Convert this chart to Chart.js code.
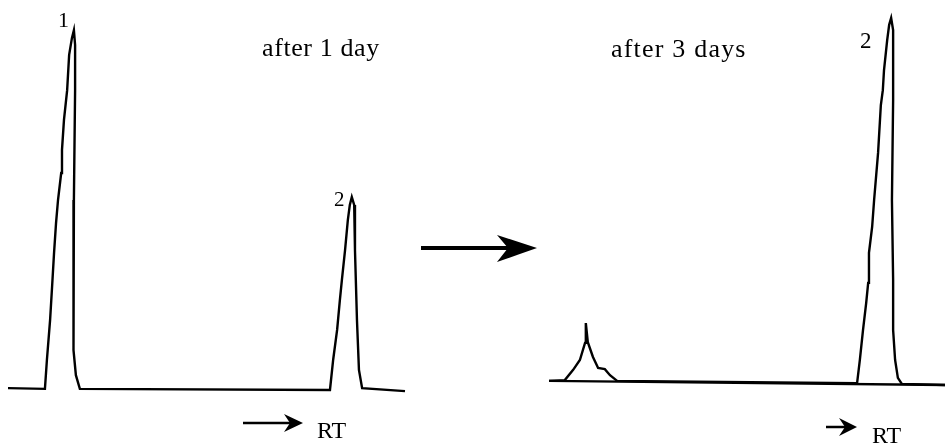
<!DOCTYPE html>
<html>
<head>
<meta charset="utf-8">
<script src="https://cdn.jsdelivr.net/npm/chart.js@4.4.1/dist/chart.umd.min.js"></script>
<style>
  body { margin: 0; background: #fff; }
  #page { position: relative; width: 948px; height: 448px; overflow: hidden; background: #fff; }
  .panel { position: absolute; top: 0; height: 448px; }
  .lbl { position: absolute; font-family: 'Liberation Serif', 'Times New Roman', serif; color: #000; line-height: 1; white-space: nowrap; }
  svg { position: absolute; left: 0; top: 0; }
</style>
</head>
<body>
<div id="page">
  <div class="panel" style="left:0;width:410px"><canvas id="day1Chart" width="410" height="448"></canvas></div>
  <div class="panel" style="left:540px;width:408px"><canvas id="day3Chart" width="408" height="448"></canvas></div>

  <svg width="948" height="448">
    <!-- arrow between the two chromatograms -->
    <line x1="421" y1="248" x2="512" y2="248" stroke="#000" stroke-width="4"/>
    <polygon points="537,248 497,235 508,248 497,262" fill="#000"/>
    <!-- RT direction arrows -->
    <line x1="243" y1="423" x2="292" y2="423" stroke="#000" stroke-width="2.5"/>
    <polygon points="303,423 284,414 290,423 284,432" fill="#000"/>
    <line x1="826" y1="427" x2="846" y2="427" stroke="#000" stroke-width="2.5"/>
    <polygon points="857,427 839,418 845,427 839,436" fill="#000"/>
  </svg>

  <div class="lbl" style="left:262px;top:35px;font-size:26px;letter-spacing:0.6px">after 1 day</div>
  <div class="lbl" style="left:611px;top:36px;font-size:26px;letter-spacing:1.2px">after 3 days</div>
  <div class="lbl" style="left:58px;top:9px;font-size:22px">1</div>
  <div class="lbl" style="left:334px;top:189px;font-size:21px">2</div>
  <div class="lbl" style="left:860px;top:29px;font-size:23px">2</div>
  <div class="lbl" style="left:317px;top:418px;font-size:24px">RT</div>
  <div class="lbl" style="left:872px;top:423px;font-size:24px">RT</div>
</div>

<script>
// Chromatogram after 1 day (retention time in min, detector signal in %)
const day1Rt = [0, 0.93, 0.98, 1.06, 1.11, 1.16, 1.21, 1.26, 1.34, 1.36, 1.41, 1.49, 1.54, 1.61, 1.66,
                1.69, 1.69, 1.66, 1.64, 1.66, 1.71, 1.81,
                8.11, 8.19, 8.29, 8.36, 8.41, 8.49, 8.56, 8.61, 8.66,
                8.72, 8.74, 8.79, 8.84, 8.92, 10];
const day1Signal = [0.5, 0.3, 7.9, 18.4, 27.1, 36.1, 43.9, 50.0, 57.1, 63.2, 71.1, 78.9, 88.2, 92.6, 94.7,
                    90.8, 78.9, 50.0, 18.4, 10.5, 3.9, 0.3,
                    0, 7.9, 15.8, 23.7, 28.9, 36.8, 44.7, 48.7, 50.8,
                    48.7, 36.8, 18.4, 5.3, 0.5, -0.3];

// Chromatogram after 3 days
const day3Rt = [0, 0.40, 0.61, 0.78, 0.91, 0.93, 0.98, 1.11, 1.24, 1.41, 1.54, 1.72,
                7.78, 7.85, 7.93, 8.01, 8.06, 8.08, 8.16, 8.21, 8.31, 8.38, 8.43, 8.46, 8.54, 8.59, 8.64,
                8.69, 8.69, 8.66, 8.69, 8.69, 8.74, 8.81, 8.91, 10];
const day3Signal = [2.4, 2.6, 5.3, 7.9, 12.4, 17.6, 12.6, 8.7, 5.8, 5.5, 3.9, 2.4,
                    1.8, 7.9, 15.8, 22.9, 28.2, 36.1, 42.9, 50.0, 62.4, 75.0, 78.9, 84.2, 92.1, 96.1, 97.9,
                    94.7, 76.3, 50.0, 28.9, 15.8, 7.9, 3.2, 1.6, 1.3];

// straight baseline drawn under the small peak
const day3BaseRt = [0, 10];
const day3BaseSignal = [2.4, 1.3];

function toPoints(xs, ys) {
    return xs.map((x, i) => ({ x: x, y: ys[i] }));
}

function traceDataset(xs, ys) {
    return {
        data: toPoints(xs, ys),
        showLine: true,
        borderColor: '#000',
        borderWidth: 2.4,
        pointRadius: 0,
        tension: 0,
        clip: false,
    };
}

// Create a chromatogram chart
function createChromatogram(canvasId, datasets, padding) {
    const ctx = document.getElementById(canvasId).getContext('2d');
    return new Chart(ctx, {
        type: 'scatter',
        data: { datasets: datasets },
        options: {
            responsive: false,
            animation: false,
            devicePixelRatio: 1,
            layout: { padding: padding },
            plugins: {
                legend: { display: false },
                tooltip: { enabled: false },
            },
            scales: {
                x: { type: 'linear', min: 0, max: 10, display: false },
                y: { type: 'linear', min: 0, max: 100, display: false },
            },
        },
    });
}

createChromatogram('day1Chart', [traceDataset(day1Rt, day1Signal)],
    { left: 8, right: 5, top: 10, bottom: 58 });

createChromatogram('day3Chart', [
    traceDataset(day3BaseRt, day3BaseSignal),
    traceDataset(day3Rt, day3Signal),
], { left: 9, right: 3, top: 10, bottom: 58 });
</script>
</body>
</html>
